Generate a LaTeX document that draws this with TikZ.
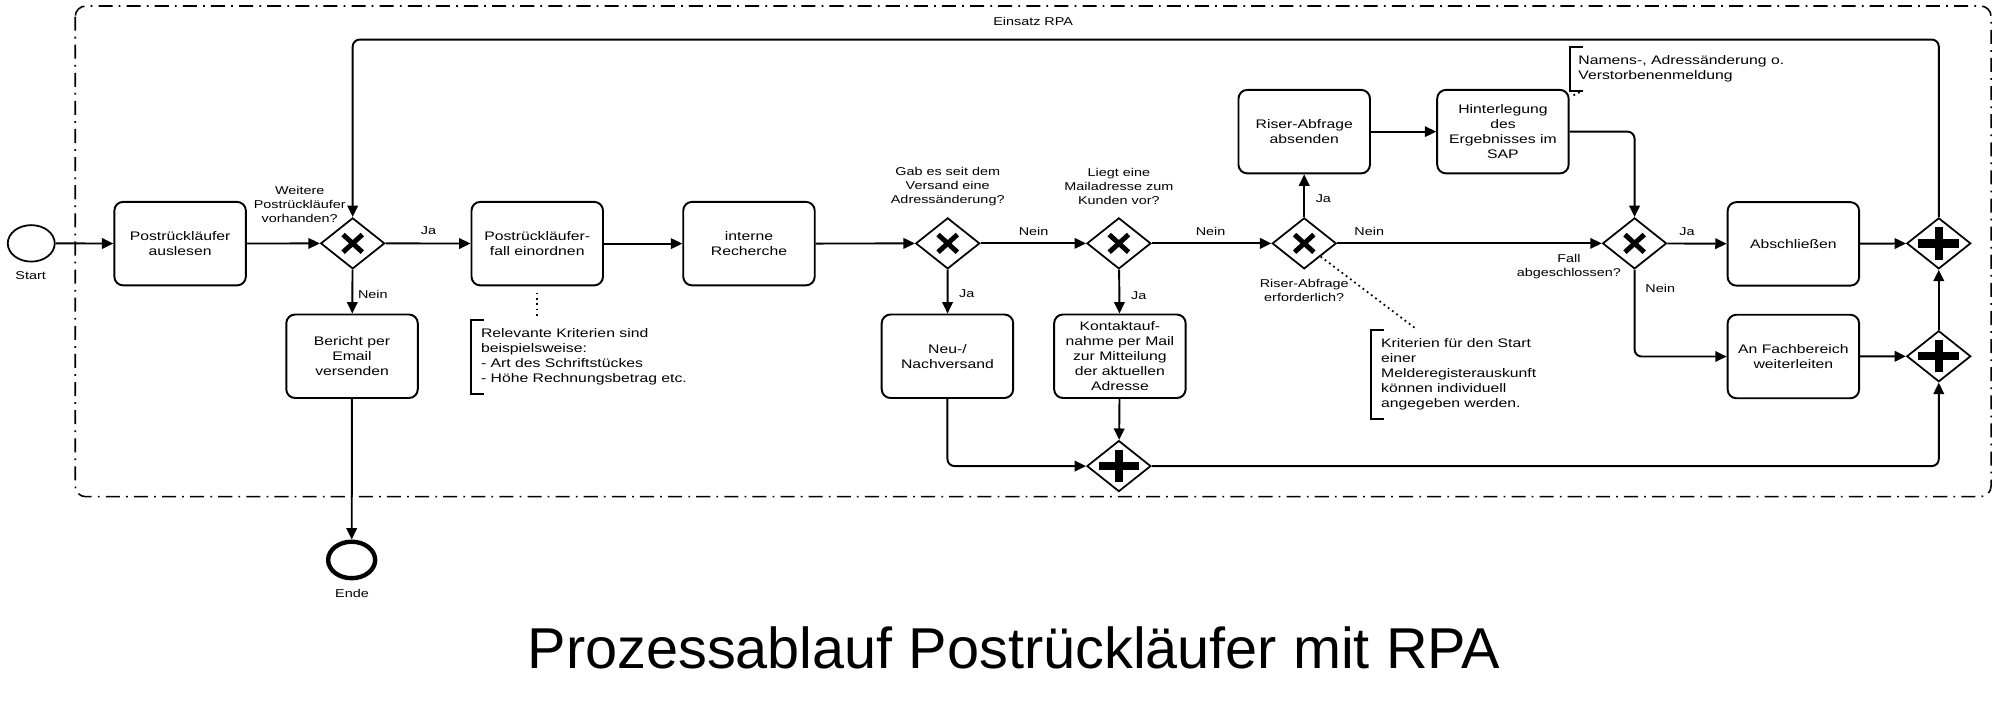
\documentclass[tikz,border=0pt]{standalone}
\usepackage{fontspec}
\setmainfont{Liberation Sans}
\newfontfamily\diafont[FakeStretch=1.27]{Liberation Sans}
\usetikzlibrary{arrows.meta,positioning,shapes.geometric}
\tikzset{>={Triangle[length=6.5pt,width=6pt]}}
\newcommand{\taskfnt}{\diafont\fontsize{7.06}{8.55}\selectfont}
\newcommand{\labelfnt}{\diafont\fontsize{6.45}{8}\selectfont}

\begin{document}
\begin{tikzpicture}[x=0.02551cm,y=-0.02551cm,
  task/.style={draw,rounded corners=5pt,line width=1.1pt,minimum width=2.63cm,minimum height=1.67cm,align=center,inner sep=1pt,font=\taskfnt},
  xgate/.style={diamond,draw,line width=1pt,minimum width=1.28cm,minimum height=1.02cm,inner sep=0pt,
    path picture={\draw[line width=2.8pt]
      ([shift={(-5.5pt,5pt)}]path picture bounding box.center) -- ([shift={(5.5pt,-5pt)}]path picture bounding box.center)
      ([shift={(-5.5pt,-5pt)}]path picture bounding box.center) -- ([shift={(5.5pt,5pt)}]path picture bounding box.center);}},
  pgate/.style={diamond,draw,line width=1pt,minimum width=1.28cm,minimum height=1.02cm,inner sep=0pt,
    path picture={\draw[line width=4.8pt]
      ([xshift=-11.6pt]path picture bounding box.center) -- ([xshift=11.6pt]path picture bounding box.center)
      ([yshift=-9.2pt]path picture bounding box.center) -- ([yshift=9.2pt]path picture bounding box.center);}},
  evt/.style={ellipse,draw,line width=1pt,minimum width=0.94cm,minimum height=0.73cm,inner sep=0pt},
  lbl/.style={font=\labelfnt,align=center,inner sep=0pt},
  note/.style={font=\taskfnt,align=left,anchor=west,inner xsep=5.5pt,inner ysep=0pt},
  bracket/.style={line width=1.1pt},
  flow/.style={->,line width=1.1pt,rounded corners=4pt},
  assoc/.style={line width=1pt,dash pattern=on 1pt off 2pt}]
  \useasboundingbox (0,0) rectangle (1568,563);

  % Einsatz RPA
  \draw[line width=0.9pt,dash pattern=on 8pt off 3.5pt on 1pt off 3.5pt,rounded corners=6pt] (59,4.7) rectangle (1561,389.4);
  \node[lbl] (rpa) at (810,17) {Einsatz RPA};

  \node[evt] (start) at (24.5,190.8) {};
  \node[lbl] (starttxt) at (24,216.4) {Start};
  \node[task] (auslesen) at (141.2,191) {Postrückläufer\\auslesen};
  \node[xgate] (g1) at (276.5,190.8) {};
  \node[lbl] (g1txt) at (235,160) {Weitere\\Postrückläufer\\vorhanden?};
  \node[task] (einordnen) at (421.2,191) {Postrückläufer-\\fall einordnen};
  \node[task] (bericht) at (276,279.3) {Bericht per\\Email\\versenden};
  \node[evt,line width=2.5pt] (ende) at (275.7,439) {};
  \node[lbl] (endetxt) at (276,465) {Ende};
  \node[note,minimum height=1.467cm] (ann1) at (369.3,279.7) {Relevante Kriterien sind\\beispielsweise:\\- Art des Schriftstückes\\- Höhe Rechnungsbetrag etc.};
  \coordinate (dot1) at (421.2,248);

  \node[task] (recherche) at (587.2,191) {interne\\Recherche};
  \node[xgate] (g2) at (743,190.8) {};
  \node[lbl] (g2txt) at (743,146) {Gab es seit dem\\Versand eine\\Adressänderung?};
  \node[task] (neu) at (742.8,279.3) {Neu-/\\Nachversand};
  \node[xgate] (g3) at (877.2,190.8) {};
  \node[lbl] (g3txt) at (877.2,146) {Liegt eine\\Mailadresse zum\\Kunden vor?};
  \node[task] (kontakt) at (878,279.3) {Kontaktauf-\\nahme per Mail\\zur Mitteilung\\der aktuellen\\Adresse};
  \node[pgate] (p1) at (877.2,365.4) {};

  \node[xgate] (g4) at (1022.5,190.8) {};
  \node[lbl] (g4txt) at (1022.5,228) {Riser-Abfrage\\erforderlich?};
  \node[task] (riser) at (1022.5,103.2) {Riser-Abfrage\\absenden};
  \node[task] (sap) at (1178.3,103.2) {Hinterlegung\\des\\Ergebnisses im\\SAP};
  \node[note,inner xsep=4.5pt,minimum height=0.857cm] (ann2) at (1231,54) {Namens-, Adressänderung o.\\Verstorbenenmeldung};
  \node[note,minimum height=1.765cm] (ann3) at (1075,293.3) {Kriterien für den Start\\einer\\Melderegisterauskunft\\können individuell\\angegeben werden.};

  \node[xgate] (g5) at (1281.5,190.8) {};
  \node[lbl] (g5txt) at (1230,209) {Fall\\abgeschlossen?};
  \node[task] (abschl) at (1406,191.2) {Abschließen};
  \node[task] (fach) at (1406,279.5) {An Fachbereich\\weiterleiten};
  \node[pgate] (p2) at (1520,190.8) {};
  \node[pgate] (p3) at (1520,279.3) {};
  \coordinate (loop) at (1520,31);

  % Ja / Nein
  \node[lbl] (ja1) at (336,181) {Ja};
  \node[lbl] (nein1) at (292.3,230.5) {Nein};
  \node[lbl] (nein2) at (810.3,181.4) {Nein};
  \node[lbl] (ja2) at (758,230.5) {Ja};
  \node[lbl] (nein3) at (949.1,181.4) {Nein};
  \node[lbl] (ja3) at (892.8,232) {Ja};
  \node[lbl] (ja4) at (1037.5,156) {Ja};
  \node[lbl] (nein4) at (1073.5,181.6) {Nein};
  \node[lbl] (ja5) at (1322.6,181.6) {Ja};
  \node[lbl] (nein5) at (1301.6,225.8) {Nein};

  \draw[flow] (start) -- (auslesen);
  \draw[flow] (auslesen) -- (g1);
  \draw[flow] (g1) -- (einordnen);
  \draw[flow] (g1) -- (bericht);
  \draw[flow] (bericht) -- (ende);
  \draw[flow] (einordnen) -- (recherche);
  \draw[flow] (recherche) -- (g2);
  \draw[flow] (g2) -- (g3);
  \draw[flow] (g2) -- (neu);
  \draw[flow] (g3) -- (g4);
  \draw[flow] (g3) -- (kontakt);
  \draw[flow] (kontakt) -- (p1);
  \draw[flow] (neu.south) |- (p1.west);
  \draw[flow] (p1.east) -| (p3.south);
  \draw[flow] (g4) -- (riser);
  \draw[flow] (g4) -- (g5);
  \draw[flow] (riser) -- (sap);
  \draw[flow] (sap.east) -| (g5.north);
  \draw[flow] (g5) -- (abschl);
  \draw[flow] (g5.south) |- (fach.west);
  \draw[flow] (abschl) -- (p2);
  \draw[flow] (fach) -- (p3);
  \draw[flow] (p3) -- (p2);
  \draw[flow] (p2.north) -- (loop) -| (g1.north);

  % Anmerkungen
  \draw[bracket] ([shift={(10,0)}]ann1.north west) -| (ann1.south west) -- ++(10,0);
  \draw[bracket] ([shift={(10,0)}]ann2.north west) -| (ann2.south west) -- ++(10,0);
  \draw[bracket] ([shift={(10,0)}]ann3.north west) -| (ann3.south west) -- ++(10,0);
  \draw[assoc] ([shift={(0,5)}]einordnen.south) -- (dot1);
  \draw[assoc] ([shift={(3,5)}]sap.north east) -- ([shift={(10,0)}]ann2.south west);
  \draw[assoc] (g4.south east) -- ([shift={(36,0)}]ann3.north west);

  \node[font=\fontsize{32.8}{36}\selectfont,anchor=base] (title) at (795,524) {Prozessablauf Postrückläufer mit RPA};
\end{tikzpicture}
\end{document}
